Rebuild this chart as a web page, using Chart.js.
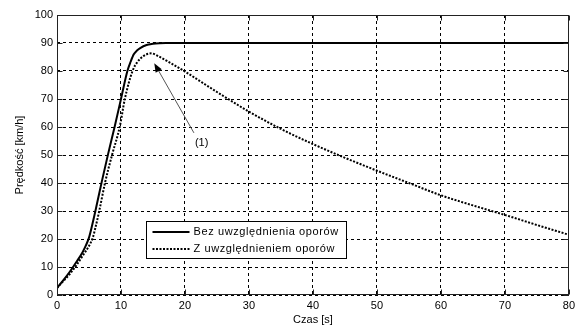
<!DOCTYPE html>
<html>
<head>
<meta charset="utf-8">
<script src="https://cdn.jsdelivr.net/npm/chart.js@4.4.1/dist/chart.umd.min.js"></script>
<style>
  html, body { margin: 0; padding: 0; background: #fff; }
</style>
</head>
<body>
<canvas id="myChart" width="579" height="329"></canvas>
<script>
// data
const seriesNames = ["Bez uwzględnienia oporów", "Z uwzględnieniem oporów"];
const timeNoDrag = [0, 1, 2, 3, 4, 4.5, 5, 5.5, 6, 7, 8, 9, 10, 11, 11.5, 12, 12.5, 13, 14, 15, 16, 17, 80];
const speedNoDrag = [2.5, 5.3, 8.3, 11.7, 15.3, 17.6, 20.5, 25, 30, 40.5, 50.5, 60, 70, 80, 83.3, 86, 87.3, 88.2, 89.3, 89.7, 89.9, 90, 90];
const timeDrag = [0, 1, 2, 3, 4, 5, 5.6, 6, 6.6, 7.5, 8.6, 9.8, 10.6, 11.8, 12.5, 13.5, 14.7, 16, 17.5, 20, 25, 30, 35, 40, 45, 50, 55, 60, 65, 70, 75, 80];
const speedDrag = [2.5, 5, 7.5, 10.5, 14, 17.5, 20.5, 24, 30, 40, 50, 60, 70, 80, 83, 85.3, 86.3, 85.1, 83.2, 79.8, 72.5, 65.5, 59.3, 53.9, 49, 44.4, 40, 35.6, 32, 28.6, 25, 21.5];
const xTicks = [0, 10, 20, 30, 40, 50, 60, 70, 80];
const yTicks = [0, 10, 20, 30, 40, 50, 60, 70, 80, 90, 100];
const xTitle = "Czas [s]";
const yTitle = "Prędkość [km/h]";
const noteLabel = "(1)";
const noteTarget = { x: 15.2, y: 82.8 };
const noteTail = { x: 21.4, y: 57.9 };

const FONT = "'Liberation Sans', Arial, sans-serif";

function toPoints(xs, ys) {
  return xs.map((x, i) => ({ x: x, y: ys[i] }));
}

// box round the axes + small tick marks inside, arrow note, legend
const framePlugin = {
  id: "frame",
  afterDatasetsDraw(chart) {
    const { ctx, chartArea: a, scales } = chart;
    const l = Math.round(a.left) + 0.5, r = Math.round(a.right) - 0.5;
    const t = Math.round(a.top) + 0.5, b = Math.round(a.bottom) - 0.5;
    ctx.save();
    ctx.strokeStyle = "#222";
    ctx.lineWidth = 1;
    ctx.setLineDash([]);
    ctx.strokeRect(l, t, r - l, b - t);
    ctx.beginPath();
    xTicks.forEach((v) => {
      const x = Math.round(scales.x.getPixelForValue(v)) + 0.5;
      ctx.moveTo(x, b); ctx.lineTo(x, b - 5);
      ctx.moveTo(x, t); ctx.lineTo(x, t + 5);
    });
    yTicks.forEach((v) => {
      const y = Math.round(scales.y.getPixelForValue(v)) + 0.5;
      ctx.moveTo(l, y); ctx.lineTo(l + 5, y);
      ctx.moveTo(r, y); ctx.lineTo(r - 5, y);
    });
    ctx.stroke();

    // arrow with label (1)
    const x0 = scales.x.getPixelForValue(noteTail.x), y0 = scales.y.getPixelForValue(noteTail.y);
    const x1 = scales.x.getPixelForValue(noteTarget.x), y1 = scales.y.getPixelForValue(noteTarget.y);
    const ang = Math.atan2(y1 - y0, x1 - x0);
    ctx.strokeStyle = "#555";
    ctx.beginPath();
    ctx.moveTo(x0, y0);
    ctx.lineTo(x1 - 6 * Math.cos(ang), y1 - 6 * Math.sin(ang));
    ctx.stroke();
    ctx.fillStyle = "#000";
    ctx.beginPath();
    ctx.moveTo(x1, y1);
    ctx.lineTo(x1 - 9 * Math.cos(ang) + 3.5 * Math.sin(ang), y1 - 9 * Math.sin(ang) - 3.5 * Math.cos(ang));
    ctx.lineTo(x1 - 9 * Math.cos(ang) - 3.5 * Math.sin(ang), y1 - 9 * Math.sin(ang) + 3.5 * Math.cos(ang));
    ctx.closePath();
    ctx.fill();
    ctx.font = "11px " + FONT;
    ctx.textAlign = "left";
    ctx.textBaseline = "middle";
    ctx.fillText(noteLabel, x0 + 1, y0 + 10);

    // legend box
    ctx.letterSpacing = "0.6px";
    const ds = chart.data.datasets;
    const bx = Math.round(a.left) + 89.5, by = Math.round(a.top) + 206.5;
    let tw = 0;
    ds.forEach((d) => { tw = Math.max(tw, ctx.measureText(d.label).width); });
    const bw = Math.round(48 + tw + 7), bh = 37;
    ctx.fillStyle = "#fff";
    ctx.fillRect(bx, by, bw, bh);
    ctx.strokeStyle = "#000";
    ctx.strokeRect(bx, by, bw, bh);
    ds.forEach((d, i) => {
      const yy = by + 10.5 + i * 17;
      ctx.strokeStyle = d.borderColor;
      ctx.lineWidth = d.borderWidth;
      ctx.setLineDash(d.borderDash || []);
      ctx.beginPath();
      ctx.moveTo(bx + 6, yy);
      ctx.lineTo(bx + 43, yy);
      ctx.stroke();
      ctx.setLineDash([]);
      ctx.fillStyle = "#000";
      ctx.fillText(d.label, bx + 47, yy);
    });
    ctx.restore();
  },
};

const ctx = document.getElementById("myChart");

new Chart(ctx, {
  type: "line",
  data: {
    datasets: [
      {
        label: seriesNames[0],
        data: toPoints(timeNoDrag, speedNoDrag),
        borderColor: "#000",
        borderWidth: 2,
        pointRadius: 0,
        cubicInterpolationMode: "monotone",
      },
      {
        label: seriesNames[1],
        data: toPoints(timeDrag, speedDrag),
        borderColor: "#000",
        borderWidth: 2,
        borderDash: [2, 1.5],
        pointRadius: 0,
        cubicInterpolationMode: "monotone",
      },
    ],
  },
  options: {
    responsive: false,
    animation: false,
    events: [],
    layout: { padding: { top: 15, right: 6, left: 0, bottom: 0 } },
    plugins: {
      legend: { display: false },
      tooltip: { enabled: false },
    },
    scales: {
      x: {
        type: "linear",
        min: 0,
        max: 80,
        afterBuildTicks: (axis) => { axis.ticks = xTicks.map((v) => ({ value: v })); },
        afterFit: (axis) => { axis.height = 34; },
        ticks: { color: "#000", padding: 4, font: { family: FONT, size: 11 }, maxRotation: 0 },
        grid: { color: "#000", lineWidth: 1, drawTicks: false },
        border: { display: false, dash: [3, 3] },
        title: { display: true, text: xTitle, color: "#000", font: { family: FONT, size: 11 }, padding: { top: 0, bottom: 2.4 } },
      },
      y: {
        min: 0,
        max: 100,
        afterBuildTicks: (axis) => { axis.ticks = yTicks.map((v) => ({ value: v })); },
        afterFit: (axis) => { axis.width = 57; },
        ticks: { color: "#000", padding: 4, font: { family: FONT, size: 11 } },
        grid: { color: "#000", lineWidth: 1, drawTicks: false },
        border: { display: false, dash: [3, 3] },
        title: { display: true, text: yTitle, color: "#000", font: { family: FONT, size: 11 }, padding: { top: 13.4, bottom: 0 } },
      },
    },
  },
  plugins: [framePlugin],
});
</script>
</body>
</html>
